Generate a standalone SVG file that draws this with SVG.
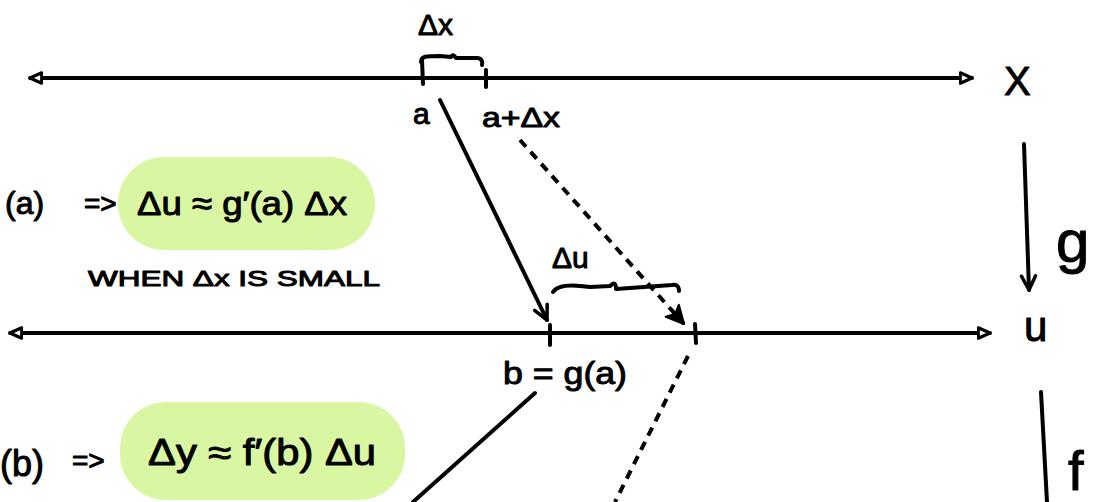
<svg xmlns="http://www.w3.org/2000/svg" width="1097" height="502" viewBox="0 0 1097 502">
<style>
.ln{stroke:#000;stroke-width:4;fill:none;stroke-linecap:round;stroke-linejoin:round}
.dash{stroke:#000;stroke-width:4;fill:none;stroke-dasharray:9 7}
.t{font-family:"Liberation Sans","DejaVu Sans",sans-serif;fill:#000;stroke:#000;stroke-width:1;stroke-linejoin:round}
.blob{fill:#d9f7a3}
</style>
<defs>
<marker id="tri" viewBox="0 0 12 12" refX="11" refY="6" markerWidth="14" markerHeight="14" markerUnits="userSpaceOnUse" orient="auto-start-reverse">
<path d="M1,1.5 L11,6 L1,10.5 Z" fill="#fff" stroke="#000" stroke-width="2.6" stroke-linejoin="round"/>
</marker>
<marker id="vee" viewBox="0 0 20 20" refX="18" refY="10" markerWidth="20" markerHeight="20" markerUnits="userSpaceOnUse" orient="auto">
<path d="M4,3 L18,10 L4,17" fill="none" stroke="#000" stroke-width="3.5" stroke-linecap="round" stroke-linejoin="round"/>
</marker>
<marker id="fil" viewBox="0 0 20 20" refX="18" refY="10" markerWidth="22" markerHeight="22" markerUnits="userSpaceOnUse" orient="auto">
<path d="M2,2 L18,10 L2,18 L6,10 Z" fill="#000" stroke="#000" stroke-width="2" stroke-linejoin="round"/>
</marker>
</defs>

<g id="axis-x">
<path class="ln" d="M30,78 L972,78" marker-start="url(#tri)" marker-end="url(#tri)"/>
<path class="ln" d="M422,60 L423,84"/>
<path class="ln" d="M486,70 L486,87" stroke-width="5"/>
<path class="ln" d="M421,62 C421,56 426,56 440,56 L451,57 Q453,53 456,58 L477,58 C481,58 483,61 482,65" stroke-width="3.5"/>
<text class="t" x="418" y="35" font-size="30">Δx</text>
<text class="t" x="413" y="124" font-size="30">a</text>
<text class="t" x="482" y="127" font-size="28" textLength="78" lengthAdjust="spacingAndGlyphs">a+Δx</text>
<text class="t" x="1004" y="95" font-size="40" stroke-width="1.5">X</text>
</g>

<g id="axis-u">
<path class="ln" d="M10,333 L990,333" marker-start="url(#tri)" marker-end="url(#tri)"/>
<path class="ln" d="M550,325 L550,345" stroke-width="3.5"/>
<path class="ln" d="M695,324 L696,343" stroke-width="5"/>
<path class="ln" d="M553,292 C557,285 570,284 590,287 L610,286 Q616,280 616,289 L672,285 C678,284 679,288 679,291" stroke-width="3.5"/>
<text class="t" x="552" y="268" font-size="30">Δu</text>
<text class="t" x="1024" y="341" font-size="42" stroke-width="1.5">u</text>
<text class="t" x="503" y="384" font-size="32" textLength="124" lengthAdjust="spacingAndGlyphs">b = g(a)</text>
</g>

<g id="eq-a">
<rect class="blob" x="118" y="157" width="257" height="93" rx="46"/>
<text class="t" x="5" y="214" font-size="32">(a)</text>
<text class="t" x="84" y="213" font-size="28">=&gt;</text>
<text class="t" x="137" y="215" font-size="34" textLength="210" lengthAdjust="spacingAndGlyphs">Δu ≈ g′(a) Δx</text>
<text class="t" x="88" y="286" font-size="22" textLength="292" lengthAdjust="spacingAndGlyphs">WHEN  Δx  IS SMALL</text>
</g>

<g id="eq-b">
<rect class="blob" x="120" y="402" width="285" height="98" rx="46"/>
<text class="t" x="0" y="476" font-size="36">(b)</text>
<text class="t" x="72" y="470" font-size="28">=&gt;</text>
<text class="t" x="148" y="465" font-size="36" textLength="228" lengthAdjust="spacingAndGlyphs">Δy ≈ f′(b) Δu</text>
</g>

<g id="map-labels">
<text class="t" x="1056" y="262" font-size="60" stroke-width="1.5">g</text>
<text class="t" x="1068" y="490" font-size="56" stroke-width="1.5">f</text>
</g>

<g id="connectors">
<path class="ln" d="M440,100 L547,320" marker-end="url(#vee)" stroke-width="3.5"/>
<path class="dash" d="M520,140 L684,324" marker-end="url(#fil)"/>
<path class="ln" d="M1024,144 L1029,290" marker-end="url(#vee)" stroke-width="3.5"/>
<path class="ln" d="M535,393 L413,502" stroke-width="3.5"/>
<path class="dash" d="M688,356 L615,502"/>
<path class="ln" d="M1041,392 L1047,502" stroke-width="3.5"/>
</g>
</svg>
